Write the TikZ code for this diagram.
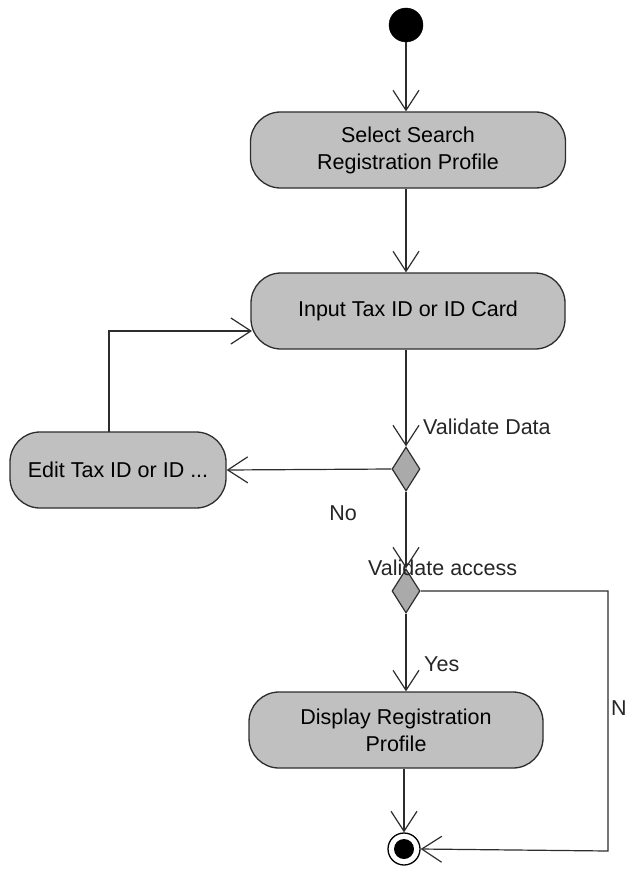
\documentclass[tikz,border=0pt]{standalone}
\usepackage{fontspec}
\setmainfont{Liberation Sans}
\usetikzlibrary{arrows.meta,shapes.geometric,positioning,calc}
\definecolor{boxgray}{RGB}{192,192,192}
\definecolor{diagray}{RGB}{170,170,170}
\definecolor{edgegray}{RGB}{45,45,45}
\begin{document}
\begin{tikzpicture}[x=1pt,y=-1pt,
  font=\fontsize{21.5}{27}\selectfont,
  actbox/.style={draw=edgegray,line width=1.3pt,fill=boxgray,rounded corners=30pt,
    minimum height=76pt,align=center,inner sep=0pt},
  decis/.style={diamond,draw=edgegray,line width=1.2pt,fill=diagray,inner sep=0pt,
    minimum width=28pt,minimum height=44pt},
  flow/.style={draw=edgegray,line width=1.2pt,-{Straight Barb[length=20pt,width=26pt,line width=1.2pt]}},
  lbl/.style={inner sep=0pt,text=black!85}]
\useasboundingbox (0,0) rectangle (625,869);
\node[circle,fill=black,draw=black,minimum size=34pt,inner sep=0pt] (start) at (406,25) {};
\node[actbox,minimum width=315pt] (a1) at (408,150) {Select Search\\Registration Profile};
\node[actbox,minimum width=314pt] (a2) at (408,311) {Input Tax ID or ID Card};
\node[decis] (d1) at (406,469) {};
\node[actbox,minimum width=216pt] (edit) at (118,470) {Edit Tax ID or ID ...};
\node[decis] (d2) at (406,591) {};
\node[actbox,minimum width=294pt] (a3) at (396,730) {Display Registration\\Profile};
\node[circle,draw=black,line width=1.3pt,fill=white,minimum size=32pt,inner sep=0pt] (end) at (404,849) {};
\node[circle,fill=black,minimum size=20pt,inner sep=0pt] (endin) at (end.center) {};
\coordinate (loopA) at (109,432);
\coordinate (loopB) at (109,331);
\coordinate (loopC) at (252,331);
\coordinate (rA) at (608,591);
\coordinate (rB) at (608,851);
\draw[flow] (start) -- (start |- a1.north);
\draw[flow] (a1.south -| start) -- (a2.north -| start);
\draw[flow] (a2.south -| d1) -- (d1.north);
\draw[flow] (d1.west) -- (edit.east);
\draw[flow] (loopA) -- (loopB) -- (loopC);
\draw[flow] (d1.south) -- (d2.north);
\draw[flow] (d2.south) -- (d2.south |- a3.north);
\draw[flow] (a3.south -| end) -- (end.north);
\draw[flow] (d2.east) -- (rA) -- (rB) -- (end.east);
\node[lbl,anchor=west] (vd) at (423,427) {Validate Data};
\node[lbl] (no1) at (343,513) {No};
\node[lbl,anchor=west] (va) at (368,568) {Validate access};
\node[lbl,anchor=west] (yes) at (424,664) {Yes};
\node[lbl,anchor=west] (no2) at (611,708) {No};
\end{tikzpicture}
\end{document}
